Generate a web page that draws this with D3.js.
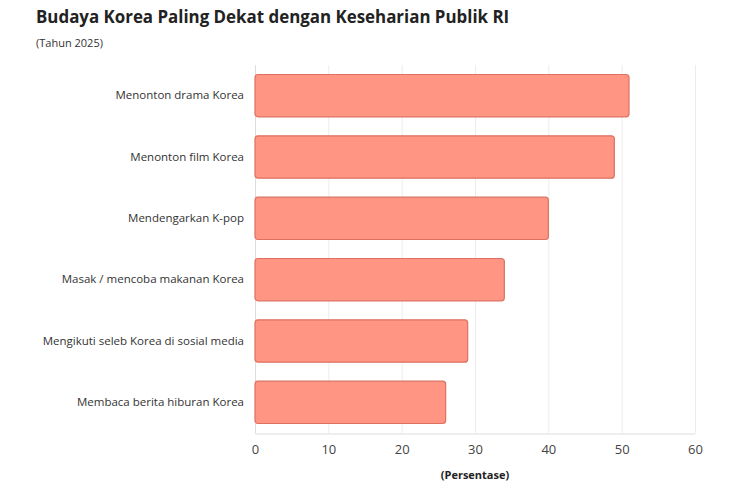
<!DOCTYPE html>
<html>
<head>
<meta charset="utf-8">
<script src="https://cdn.jsdelivr.net/npm/d3@7"></script>
<style>
  body { margin: 0; background: #fff; }
  text { font-family: "Open Sans", sans-serif; }
</style>
</head>
<body>
<div id="chart"></div>
<script>
// data
var categories = [
    "Menonton drama Korea",
    "Menonton film Korea",
    "Mendengarkan K-pop",
    "Masak / mencoba makanan Korea",
    "Mengikuti seleb Korea di sosial media",
    "Membaca berita hiburan Korea"
];
var values = [51, 49, 40, 34, 29, 26];
var xTicks = [0, 10, 20, 30, 40, 50, 60];

var W = 741, H = 486;
var margin = { top: 65, right: 46, bottom: 53, left: 255 },
    width = W - margin.left - margin.right,
    height = H - margin.top - margin.bottom;

var svg = d3.select("#chart")
    .append("svg")
    .attr("width", W)
    .attr("height", H);

// title + subtitle
svg.append("text")
    .attr("x", 36).attr("y", 23)
    .text("Budaya Korea Paling Dekat dengan Keseharian Publik RI")
    .style("font-size", "16.9px")
    .style("font-weight", "bold")
    .style("fill", "#222");

svg.append("text")
    .attr("x", 36).attr("y", 47)
    .text("(Tahun 2025)")
    .style("font-size", "11px")
    .style("fill", "#333");

var g = svg.append("g")
    .attr("transform", "translate(" + margin.left + "," + margin.top + ")");

var x = d3.scaleLinear()
    .domain([0, 60])
    .range([0, width]);

var y = d3.scaleBand()
    .domain(categories)
    .range([0, height])
    .paddingInner(0.31)
    .paddingOuter(0.155);

// vertical grid
g.append("g")
    .selectAll("line")
    .data(xTicks)
    .enter()
    .append("line")
    .attr("x1", d => x(d) + 0.5)
    .attr("x2", d => x(d) + 0.5)
    .attr("y1", 0)
    .attr("y2", height)
    .style("stroke", "#ececec")
    .style("stroke-width", 1);

// x axis
var xAxis = g.append("g")
    .attr("transform", "translate(0," + (height + 0.5) + ")")
    .call(d3.axisBottom(x).tickValues(xTicks).tickSize(0).tickPadding(11));
xAxis.select(".domain").style("stroke", "#dcdcdc");
xAxis.selectAll("text")
    .style("font-size", "13px")
    .style("fill", "#444")
    .style("font-family", "'Open Sans', sans-serif");

// y axis labels
var yAxis = g.append("g")
    .call(d3.axisLeft(y).tickSize(0).tickPadding(11));
yAxis.select(".domain").style("stroke", "#dcdcdc");
yAxis.selectAll("text")
    .style("font-size", "11.5px")
    .style("fill", "#333")
    .style("font-family", "'Open Sans', sans-serif");

// bars
g.append("g")
    .selectAll("rect")
    .data(values)
    .enter()
    .append("rect")
    .attr("x", 0)
    .attr("y", (d, i) => y(categories[i]))
    .attr("width", d => x(d))
    .attr("height", y.bandwidth())
    .attr("rx", 3)
    .style("fill", "#ff9582")
    .style("stroke", "#dd7160")
    .style("stroke-width", 1.2);

// x axis title
svg.append("text")
    .attr("x", margin.left + width / 2)
    .attr("y", 479)
    .attr("text-anchor", "middle")
    .text("(Persentase)")
    .style("font-size", "11px")
    .style("font-weight", "bold")
    .style("fill", "#222");
</script>
</body>
</html>
